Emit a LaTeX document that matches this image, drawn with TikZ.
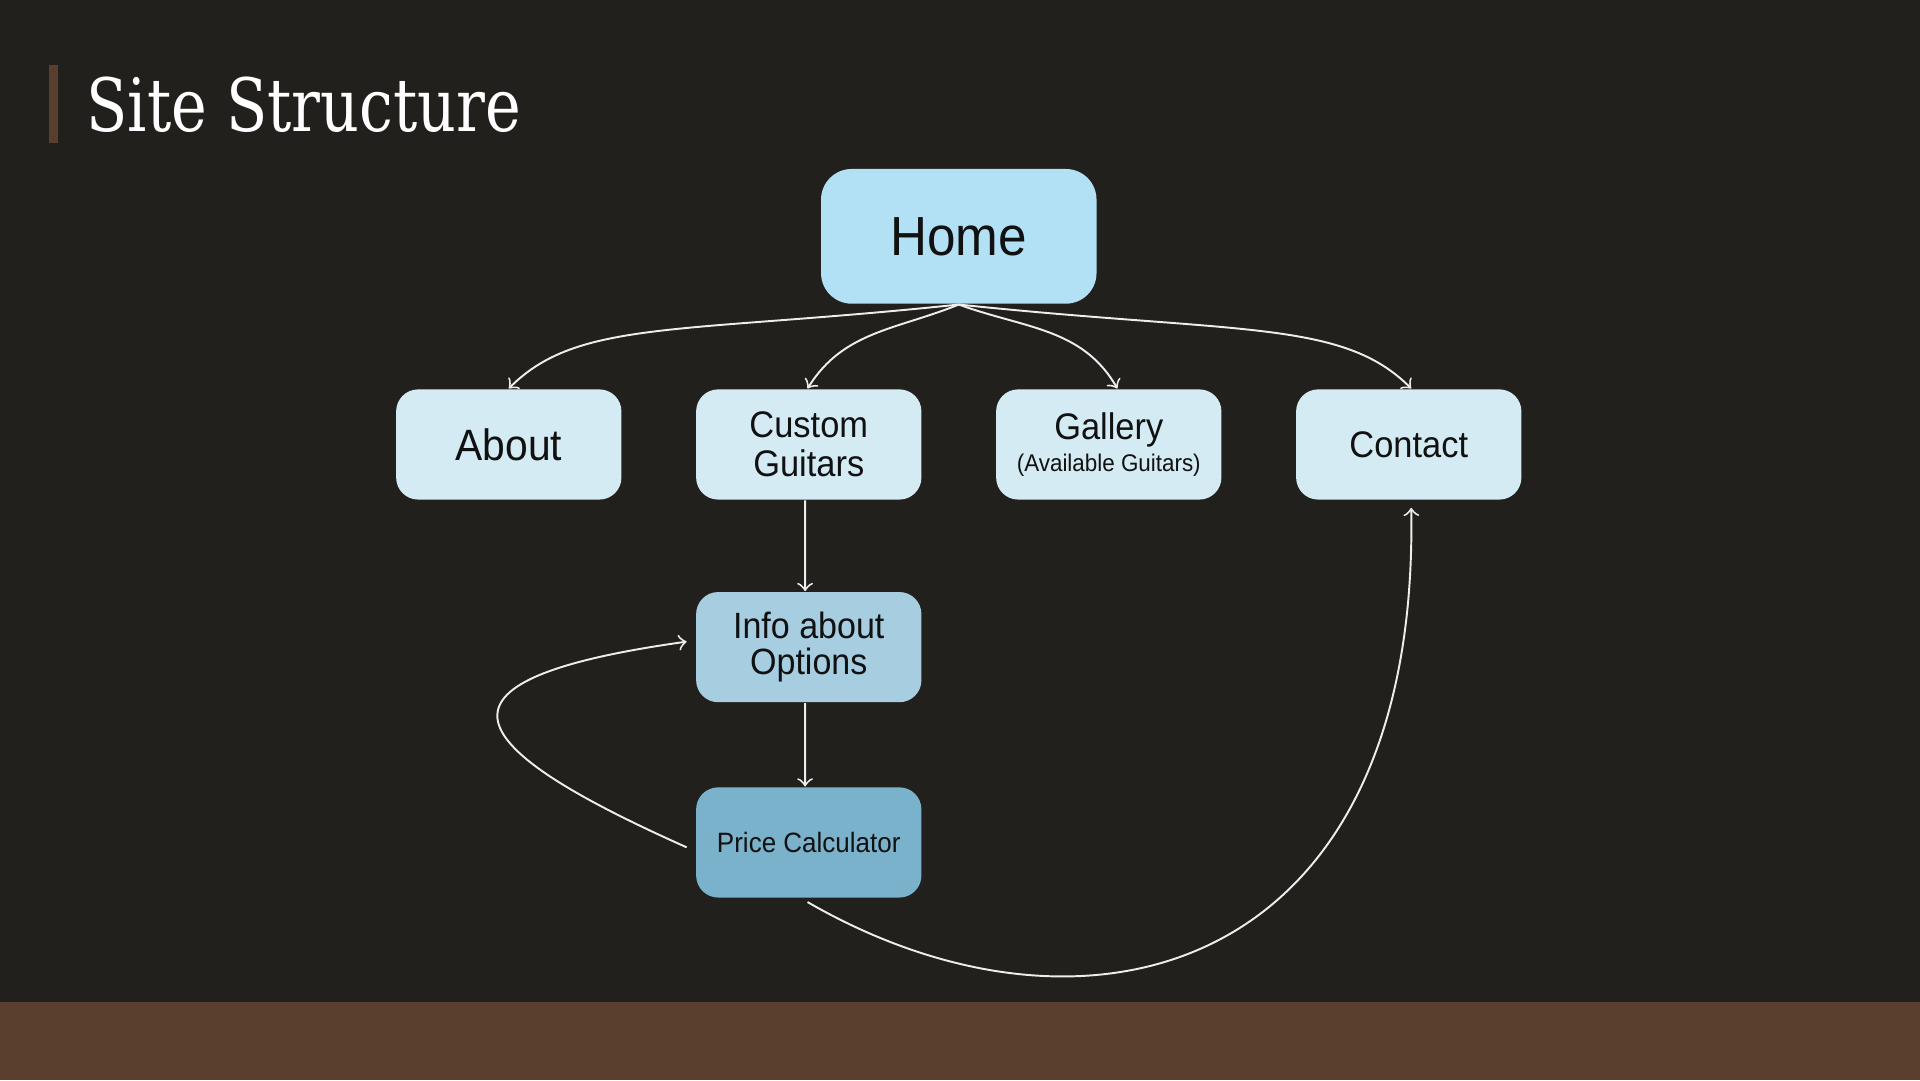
\documentclass[tikz,border=0pt]{standalone}
\usepackage{fontspec}
\setmainfont{Liberation Sans}[FakeStretch=0.93]
\newfontfamily\titlefont{DejaVu Serif}[FakeStretch=0.82]
\usepackage{tikz}

\definecolor{slidebg}{HTML}{22201C}
\definecolor{band}{HTML}{5B3F2E}
\definecolor{homeblue}{HTML}{B2E1F5}
\definecolor{pageblue}{HTML}{D4EBF4}
\definecolor{infoblue}{HTML}{A6CDE0}
\definecolor{priceblue}{HTML}{79B2CA}
\definecolor{ink}{HTML}{111111}
\definecolor{wire}{HTML}{EDEDED}

\begin{document}
\begin{tikzpicture}[x=0.1mm, y=0.1mm,
            nodes={rectangle, rounded corners=1.8mm, minimum width=18.4mm, minimum height=9mm, inner sep=0pt, align=center, text=ink, fill=pageblue},
            home/.style={minimum width=22.5mm, minimum height=11mm, rounded corners=2.5mm, fill=homeblue, font=\fontsize{12.8}{14}\selectfont},
            page/.style={font=\fontsize{8.6}{9.1}\selectfont},
            edge from parent/.style={draw=none},
            link/.style={draw=wire, line width=0.45pt, ->},
            sibling distance=24.5mm]
        % slide
        \fill[slidebg] (0,0) rectangle (1568,882);
        \fill[band] (0,0) rectangle (1568,64);
        \fill[band] (40,765) rectangle (47,829);
        \useasboundingbox (0,0) rectangle (1568,882);
        \node[fill=none, minimum width=0pt, minimum height=0pt, anchor=base west, text=white, font=\titlefont\fontsize{17.1}{20}\selectfont] (title) at (70,775) {Site Structure};

        % pages
        \node[home] (home) at (783,689) {Home}
        child[level distance=17mm] {node[page, font=\fontsize{10.2}{12}\selectfont] (about) {About}}
        child[level distance=17mm] {node[page] (custom) {Custom\\Guitars}
            child[level distance=16.55mm] {node[page, fill=infoblue, font=\fontsize{8.5}{8.5}\selectfont] (info) {Info about\\Options}
                child[level distance=15.95mm] {node[page, fill=priceblue, font=\fontsize{6.5}{8}\selectfont] (price) {Price Calculator}}}}
        child[level distance=17mm] {node[page, font=\fontsize{8.6}{7.4}\selectfont] (gallery) {Gallery\\{\fontsize{5.6}{7}\selectfont(Available Guitars)}}}
        child[level distance=17mm] {node[page] (contact) {Contact}};

        % links
        \draw[link] (home.south) .. controls +(186:23mm) and +(45:8mm) .. (about.north);
        \draw[link] (home.south) to[out=202, in=58] ([xshift=-0.1mm]custom.north);
        \draw[link] (home.south) to[out=-20, in=120] ([xshift=0.7mm]gallery.north);
        \draw[link] (home.south) .. controls +(-6:23mm) and +(135:8mm) .. ([xshift=0.2mm]contact.north);
        \draw[link] ([xshift=-0.3mm]custom.south) -- ([xshift=-0.3mm]info.north);
        \draw[link] ([xshift=-0.3mm]info.south) -- ([xshift=-0.3mm]price.north);
        \draw[link] ([xshift=-0.7mm, yshift=-0.4mm]price.west) to[out=156, in=188, looseness=3.3] ([xshift=-0.7mm, yshift=0.45mm]info.west);
        \draw[link] ([xshift=-0.1mm, yshift=-0.3mm]price.south) .. controls +(-30:26.5mm) and +(-89:38mm) .. ([xshift=0.2mm, yshift=-0.6mm]contact.south);
    \end{tikzpicture}
\end{document}
